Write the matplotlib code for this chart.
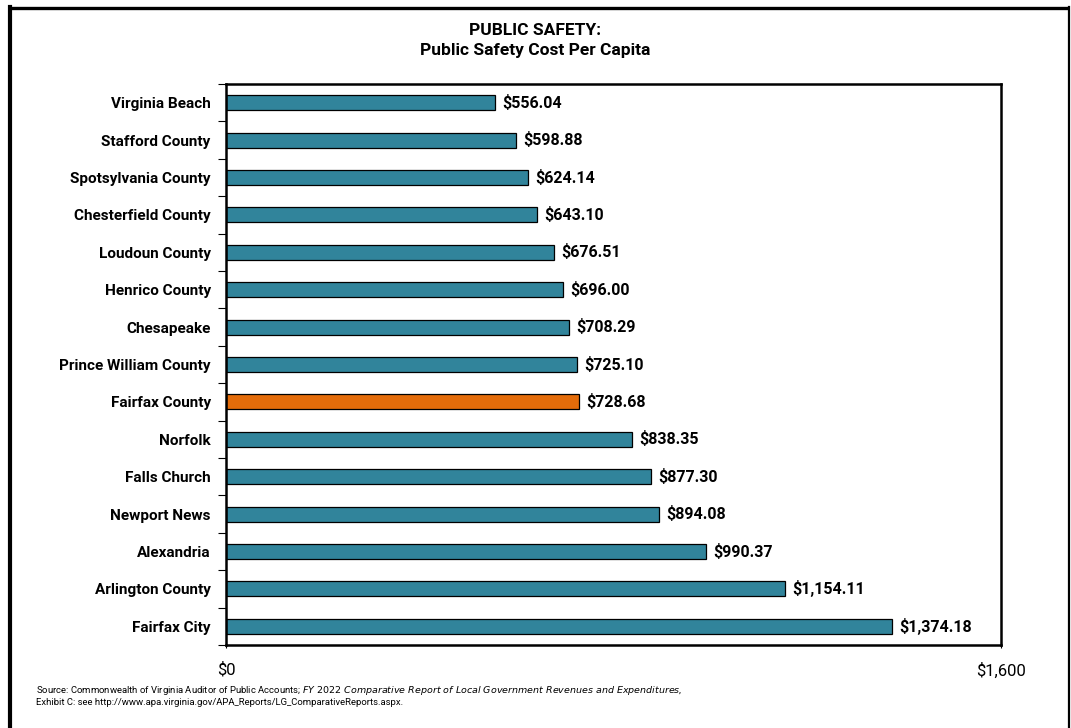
import matplotlib.pyplot as plt
from matplotlib.lines import Line2D
from matplotlib.ticker import FixedLocator

plt.rcParams['font.family'] = ['Roboto', 'DejaVu Sans']

places = ["Virginia Beach", "Stafford County", "Spotsylvania County", "Chesterfield County",
          "Loudoun County", "Henrico County", "Chesapeake", "Prince William County",
          "Fairfax County", "Norfolk", "Falls Church", "Newport News", "Alexandria",
          "Arlington County", "Fairfax City"]
costs = [556.04, 598.88, 624.14, 643.10, 676.51, 696.00, 708.29, 725.10,
         728.68, 838.35, 877.30, 894.08, 990.37, 1154.11, 1374.18]
highlight = "Fairfax County"

teal = "#31849B"
orange = "#E46C0A"

fig = plt.figure(figsize=(10.71, 7.28), dpi=100)
ax = fig.add_axes([0.211, 0.114, 0.7236, 0.7706])

ypos = list(range(len(places)))
colours = [orange if p == highlight else teal for p in places]
ax.barh(ypos, costs, height=0.4, color=colours, edgecolor="black", linewidth=0.9)

# подписи значений справа от столбцов
for y, v in zip(ypos, costs):
    ax.text(v + 15, y, "${:,.2f}".format(v), va="center", ha="left",
            fontsize=11.5, fontweight="bold")

ax.set_xlim(0, 1600)
ax.set_ylim(len(places) - 0.5, -0.5)
ax.set_yticks(ypos)
ax.set_yticklabels(places, fontsize=11, fontweight="bold")
ax.tick_params(axis="y", which="major", length=0, pad=11)
ax.yaxis.set_minor_locator(FixedLocator([i - 0.5 for i in range(len(places) + 1)]))
ax.tick_params(axis="y", which="minor", length=6, width=0.8, direction="out")

ax.set_xticks([0, 1600])
ax.set_xticklabels(["$0", "$1,600"], fontsize=12)
ax.tick_params(axis="x", length=5, width=0.8, direction="inout", pad=10)

for s in ax.spines.values():
    s.set_linewidth(1.8)

fig.text(0.5, 0.958, "PUBLIC SAFETY:", ha="center", va="center", fontsize=12.5, fontweight="bold")
fig.text(0.5, 0.930, "Public Safety Cost Per Capita", ha="center", va="center", fontsize=12.5, fontweight="bold")

src1 = ("Source: Commonwealth of Virginia Auditor of Public Accounts; "
        "$\\it{FY\\ 2022\\ Comparative\\ Report\\ of\\ Local\\ Government\\ Revenues\\ and\\ Expenditures}$,")
fig.text(0.034, 0.052, src1, fontsize=6.8, va="center")
fig.text(0.034, 0.035, "Exhibit C: see http://www.apa.virginia.gov/APA_Reports/LG_ComparativeReports.aspx.",
         fontsize=6.8, va="center")

# рамка страницы
fig.add_artist(Line2D([0.009, 0.998], [0.989, 0.989], color="black", linewidth=2.4,
                      transform=fig.transFigure, solid_capstyle="butt"))
fig.add_artist(Line2D([0.0095, 0.0095], [0.0, 0.991], color="black", linewidth=3.0,
                      transform=fig.transFigure))
fig.add_artist(Line2D([0.998, 0.998], [0.0, 0.991], color="black", linewidth=1.6,
                      transform=fig.transFigure))

fig.savefig("out.png", dpi=100)
